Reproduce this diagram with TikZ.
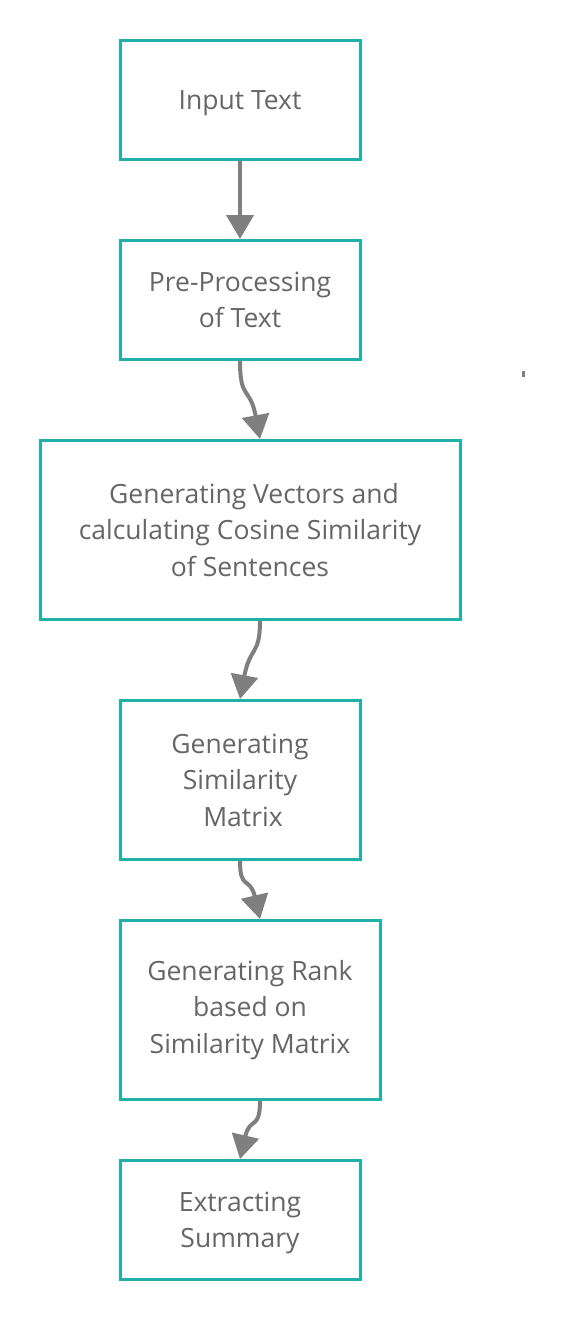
\documentclass[tikz,border=0pt]{standalone}
\usepackage{fontspec}
\setmainfont{Open Sans}
\usetikzlibrary{arrows.meta}
\definecolor{teal1}{HTML}{22B0AA}
\definecolor{arrowgray}{HTML}{7F7F7F}
\definecolor{textgray}{HTML}{666666}
\tikzset{
  box/.style={draw=teal1, line width=3pt, fill=white, text=textgray, align=center,
    font=\fontsize{26.5}{36.5}\selectfont, inner sep=0pt},
  conn/.style={draw=arrowgray, line width=4pt, -{Triangle[width=27pt,length=24pt]}}
}
\begin{document}
\begin{tikzpicture}[x=1pt,y=-1pt]
\useasboundingbox (0,0) rectangle (564,1320);
\node[box, minimum width=240pt, minimum height=119pt, text depth=-3pt] (a) at (240,100) {Input Text};
\node[box, minimum width=240pt, minimum height=119pt, text depth=-2pt] (b) at (240,300) {Pre-Processing\\of Text};
\node[box, minimum width=420pt, minimum height=179pt] (c) at (250,530) {\hspace*{8pt}Generating Vectors and\\calculating Cosine Similarity\\of Sentences};
\node[box, minimum width=240pt, minimum height=159pt] (d) at (240,780) {Generating\\Similarity\\\hspace*{6pt}Matrix};
\node[box, minimum width=260pt, minimum height=179pt] (e) at (250,1010) {Generating Rank\\based on\\Similarity Matrix};
\node[box, minimum width=240pt, minimum height=119pt, text depth=-3pt] (f) at (240,1220) {Extracting\\Summary};
\fill[arrowgray] (522,371) rectangle (525,377);
\draw[conn] (a.south) -- (b.north);
\draw[conn] (b.south) .. controls ([yshift=-40pt]b.south) and ([xshift=10pt,yshift=-25pt]b.south) .. ([xshift=10pt]c.north);
\draw[conn] ([xshift=10pt]c.south) .. controls ([xshift=10pt,yshift=-35pt]c.south) and ([yshift=-25pt]c.south) .. (d.north);
\draw[conn] (d.south) .. controls ([yshift=-30pt]d.south) and ([xshift=10pt,yshift=-15pt]d.south) .. ([xshift=10pt]e.north);
\draw[conn] ([xshift=10pt]e.south) .. controls ([xshift=10pt,yshift=-30pt]e.south) and ([yshift=-15pt]e.south) .. (f.north);
\end{tikzpicture}
\end{document}
